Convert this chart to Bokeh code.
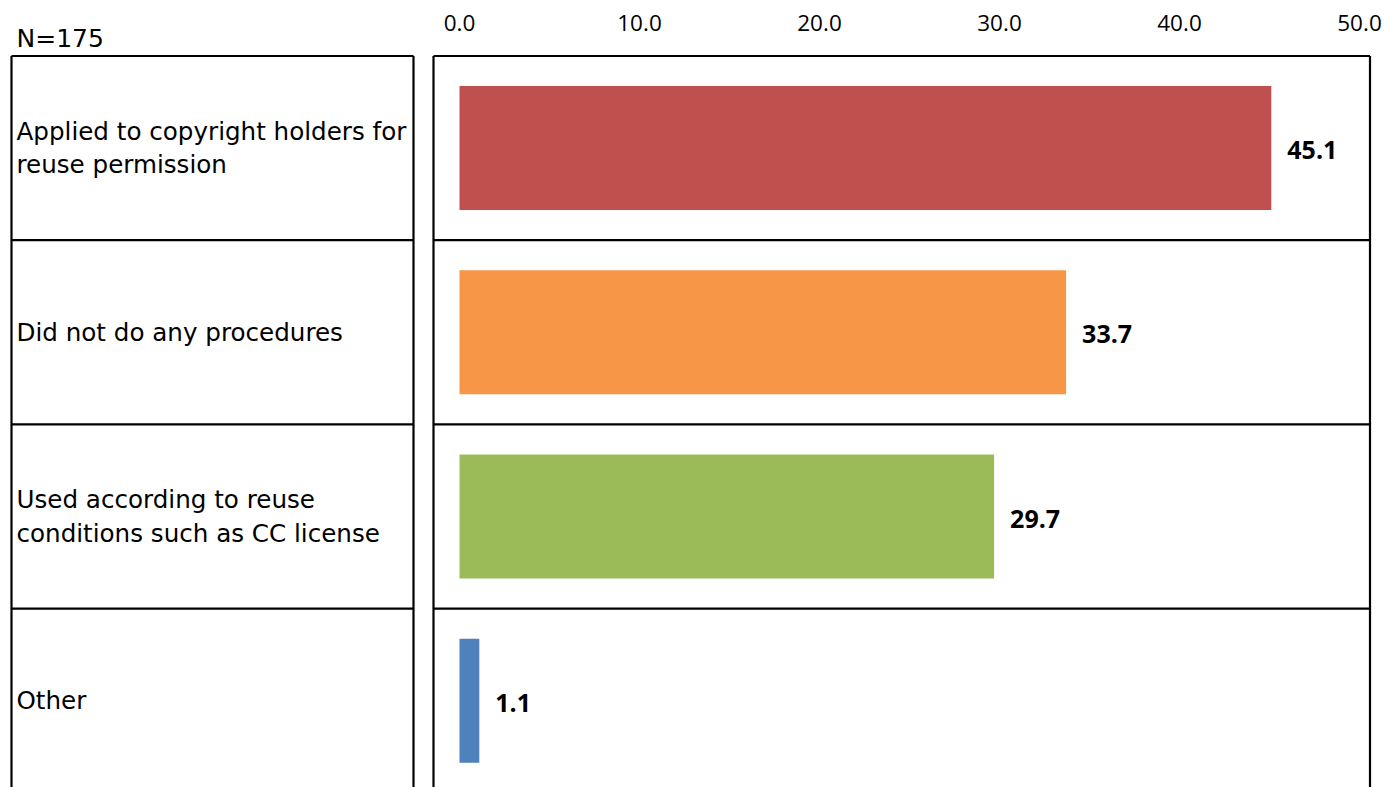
from bokeh.plotting import figure
from bokeh.layouts import row
from bokeh.models import Range1d, FixedTicker, NumeralTickFormatter, ColumnDataSource
from bokeh.core.properties import value
from bokeh.embed import file_html
from bokeh.resources import INLINE

# ---------------- data ----------------
categories = [
    "Applied to copyright holders for\nreuse permission",
    "Did not do any procedures",
    "Used according to reuse\nconditions such as CC license",
    "Other",
]
values = [45.1, 33.7, 29.7, 1.1]
colors = ["#C0504D", "#F79646", "#9BBB59", "#4F81BD"]
ticks = [0, 10, 20, 30, 40, 50]
note = "N=175"

# ---------------- layout constants (page pixels) ----------------
TOTAL_W = 1385
TOTAL_H = 787
ROW_PX = 184.2
TABLE_TOP = 55.5          # page y of first row boundary
FRAME_TOP = 52            # page y of frame top
SPLIT = 424               # page x where right figure starts
ZERO_X = 459.0            # page x of value 0
PX_PER_UNIT = 18.0
RIGHT_W = TOTAL_W - SPLIT
LEFT_W = SPLIT
n = len(categories)
ys = list(range(n))

def y_of(page_y):
    return -0.5 + (page_y - TABLE_TOP) / ROW_PX

def x_of(page_x):
    return (page_x - ZERO_X) / PX_PER_UNIT

y_bottom = y_of(TOTAL_H)
yr = Range1d(y_bottom, y_of(FRAME_TOP))

# ---------------- right chart ----------------
p = figure(width=RIGHT_W, height=TOTAL_H, output_backend="svg", toolbar_location=None,
           x_range=Range1d(x_of(SPLIT), x_of(TOTAL_W)), y_range=yr,
           x_axis_location="above", y_axis_location=None,
           min_border_left=0, min_border_right=0, min_border_bottom=0,
           min_border_top=FRAME_TOP)
p.outline_line_color = None
p.grid.visible = False
p.background_fill_color = "white"
p.border_fill_color = "white"

src = ColumnDataSource(dict(y=ys, v=values, c=colors, lab=[f"{v:.1f}" for v in values]))
p.hbar(y="y", left=0, right="v", height=124 / ROW_PX, fill_color="c", line_color=None, source=src)
p.text(x="v", y="y", text="lab", x_offset=16, y_offset=2, text_align="left", text_baseline="middle",
       text_font=value("Open Sans"), text_font_style="bold", text_font_size="25px",
       text_color="black", source=src)

# frame lines of right box
bx0, bx1 = x_of(433), x_of(1369.5)
p.segment(x0=[bx0, bx1], y0=[-0.5, -0.5], x1=[bx0, bx1], y1=[y_bottom + 1, y_bottom + 1],
          line_color="black", line_width=2.2)
p.segment(x0=[bx0] * n, y0=[i - 0.5 for i in range(n)], x1=[bx1] * n, y1=[i - 0.5 for i in range(n)],
          line_color="black", line_width=2.2)

ax = p.xaxis[0]
ax.ticker = FixedTicker(ticks=ticks)
ax.formatter = NumeralTickFormatter(format="0.0")
ax.axis_line_color = None
ax.major_tick_line_color = None
ax.minor_tick_line_color = None
ax.major_tick_in = 0
ax.major_tick_out = 0
ax.major_label_standoff = 22
ax.major_label_text_font = "Open Sans"
ax.major_label_text_font_size = "22.5px"
ax.major_label_text_color = "black"

# ---------------- left table ----------------
q = figure(width=LEFT_W, height=TOTAL_H, output_backend="svg", toolbar_location=None,
           x_range=Range1d(0, SPLIT), y_range=yr,
           x_axis_location=None, y_axis_location=None,
           min_border_left=0, min_border_right=0, min_border_bottom=0,
           min_border_top=FRAME_TOP, title=note)
q.outline_line_color = None
q.grid.visible = False
q.title.align = "left"
q.title.offset = 16
q.title.standoff = 0
q.title.text_font = "DejaVu Sans"
q.title.text_font_size = "25px"
q.title.text_font_style = "normal"
q.title.text_color = "black"

lx0, lx1 = 11, 413
q.segment(x0=[lx0, lx1], y0=[-0.5, -0.5], x1=[lx0, lx1], y1=[y_bottom + 1, y_bottom + 1],
          line_color="black", line_width=2.2)
q.segment(x0=[lx0] * n, y0=[i - 0.5 for i in range(n)], x1=[lx1] * n, y1=[i - 0.5 for i in range(n)],
          line_color="black", line_width=2.2)
q.text(x=[16] * n, y=ys, text=categories, text_align="left", text_baseline="middle",
       text_font=value("DejaVu Sans"), text_font_size="24.6px", text_line_height=1.15,
       text_color="black")

layout = row(q, p)
open("out.html", "w").write(file_html(layout, INLINE))
